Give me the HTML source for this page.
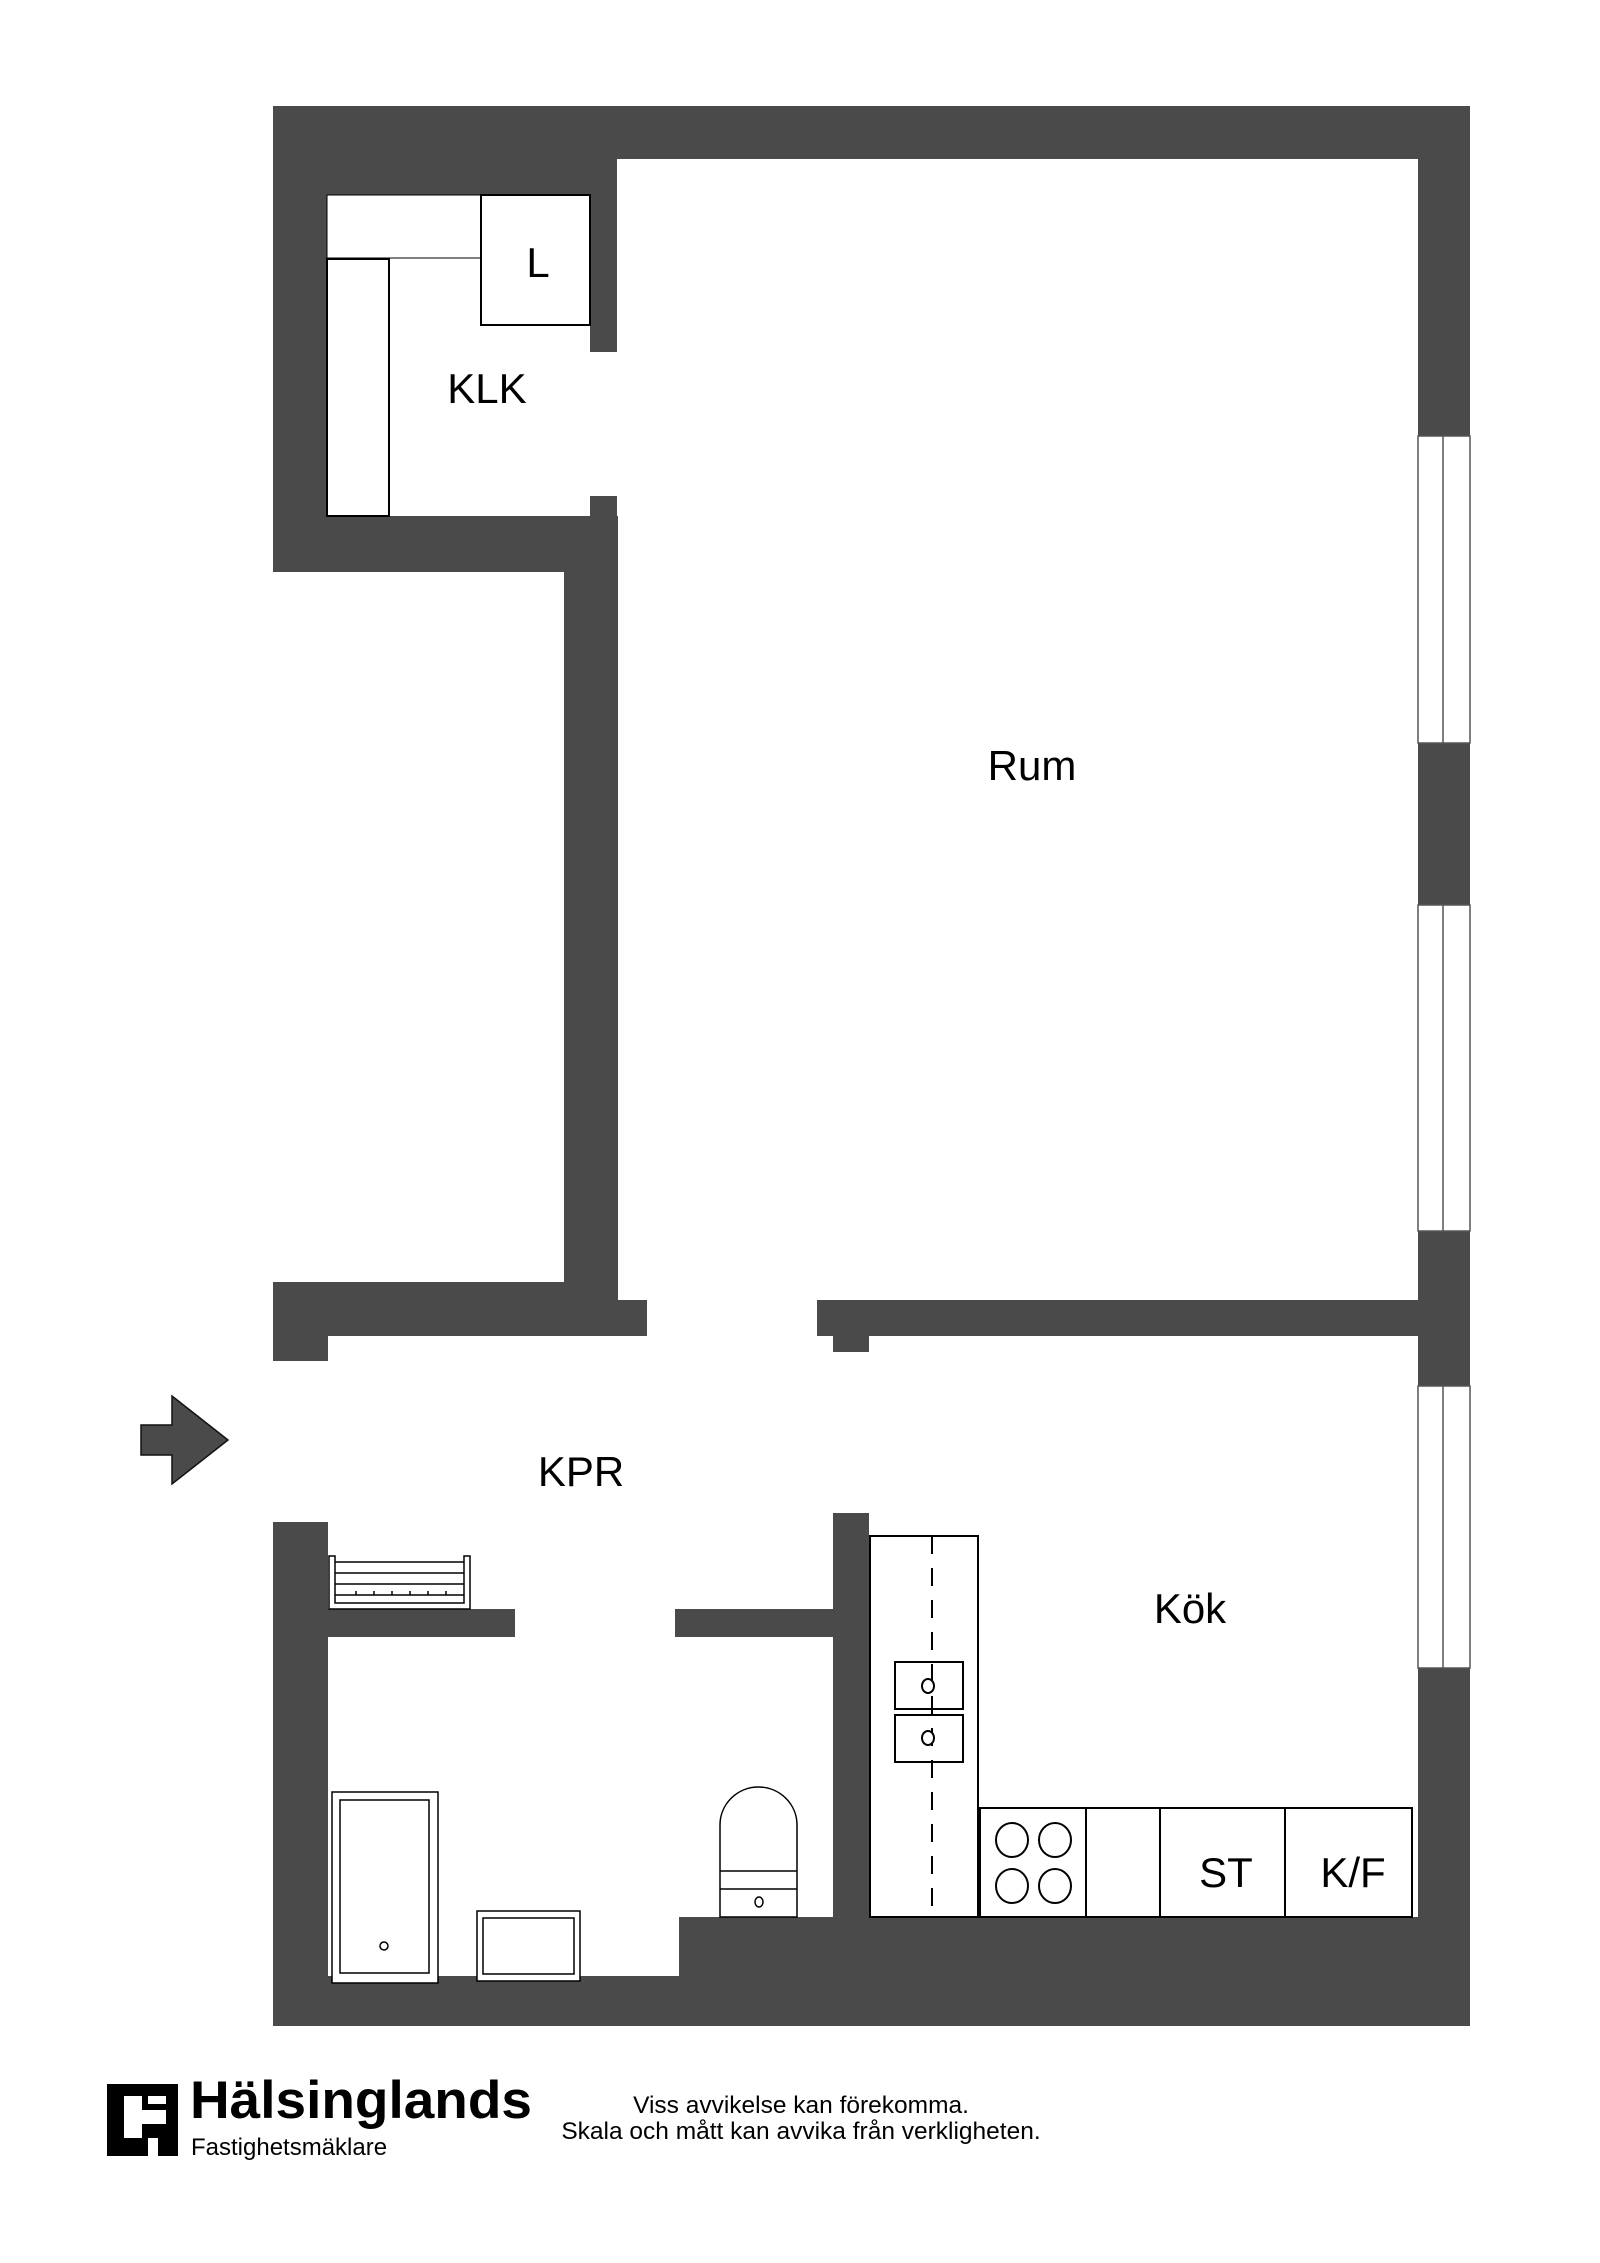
<!DOCTYPE html>
<html><head><meta charset="utf-8"><style>html,body{margin:0;padding:0;background:#fff}svg{display:block}</style></head>
<body>
<svg width="1600" height="2263" viewBox="0 0 1600 2263" xmlns="http://www.w3.org/2000/svg" font-family="Liberation Sans, sans-serif">
<g fill="#4a4a4a">
<rect x="273" y="106" width="1197" height="53"/>
<rect x="273" y="106" width="54" height="466"/>
<rect x="273" y="106" width="317" height="89"/>
<rect x="590" y="106" width="27" height="246"/>
<rect x="590" y="496" width="27" height="30"/>
<rect x="273" y="516" width="345" height="56"/>
<rect x="564" y="516" width="54" height="820"/>
<rect x="1418" y="106" width="52" height="1920"/>
<rect x="273" y="1282" width="345" height="54"/>
<rect x="564" y="1282" width="54" height="18"/>
<rect x="564" y="1300" width="83" height="36"/>
<rect x="273" y="1282" width="55" height="79"/>
<rect x="817" y="1300" width="601" height="36"/>
<rect x="833" y="1300" width="36" height="52"/>
<rect x="273" y="1522" width="55" height="504"/>
<rect x="328" y="1609" width="187" height="28"/>
<rect x="675" y="1609" width="158" height="28"/>
<rect x="833" y="1513" width="36" height="420"/>
<rect x="679" y="1917" width="790" height="109"/>
<rect x="273" y="1976" width="420" height="50"/>
</g>
<g fill="#fff" stroke="#555" stroke-width="1.5">
<rect x="1418" y="436" width="52" height="307"/><line x1="1443" y1="436" x2="1443" y2="743"/>
<rect x="1418" y="905" width="52" height="326"/><line x1="1443" y1="905" x2="1443" y2="1231"/>
<rect x="1418" y="1386" width="52" height="282"/><line x1="1443" y1="1386" x2="1443" y2="1668"/>
</g>
<g fill="#fff" stroke="#000" stroke-width="2">
<rect x="327" y="195" width="154" height="63" stroke-width="1"/>
<rect x="327" y="259" width="62" height="257"/>
<rect x="481" y="195" width="109" height="130"/>
</g>
<g fill="#fff" stroke="#000" stroke-width="1.5">
<path d="M329 1556 V1609 H470 V1556 H464 V1603 H335 V1556 Z"/>
<line x1="335" y1="1562" x2="464" y2="1562"/><line x1="335" y1="1573" x2="464" y2="1573"/><line x1="335" y1="1584" x2="464" y2="1584"/><line x1="335" y1="1595" x2="464" y2="1595"/>
<path d="M356 1595 v-4 M374 1595 v-4 M392 1595 v-4 M410 1595 v-4 M428 1595 v-4 M446 1595 v-4"/>
</g>
<g fill="#fff" stroke="#000" stroke-width="2">
<rect x="870" y="1536" width="108" height="381"/>
<line x1="932" y1="1536" x2="932" y2="1917" stroke-dasharray="18 14"/>
<rect x="895" y="1662" width="68" height="47" fill="none"/>
<rect x="895" y="1715" width="68" height="47" fill="none"/>
<ellipse cx="928" cy="1686" rx="6" ry="7"/><ellipse cx="928" cy="1738" rx="6" ry="7"/>
<rect x="980" y="1808" width="432" height="109"/>
<line x1="1086" y1="1808" x2="1086" y2="1917"/><line x1="1160" y1="1808" x2="1160" y2="1917"/><line x1="1285" y1="1808" x2="1285" y2="1917"/>
<ellipse cx="1012" cy="1840" rx="16" ry="17"/><ellipse cx="1055" cy="1840" rx="16" ry="17"/>
<ellipse cx="1012" cy="1886" rx="16" ry="17"/><ellipse cx="1055" cy="1886" rx="16" ry="17"/>
</g>
<g fill="#fff" stroke="#000" stroke-width="1.5">
<rect x="332" y="1792" width="106" height="191"/>
<rect x="340" y="1800" width="89" height="173"/>
<circle cx="384" cy="1946" r="4"/>
<rect x="477" y="1911" width="103" height="70"/>
<rect x="483" y="1918" width="91" height="56"/>
<path d="M720 1917 V1825 A38.5 38 0 0 1 797 1825 V1917 Z"/>
<line x1="720" y1="1871" x2="797" y2="1871"/><line x1="720" y1="1889" x2="797" y2="1889"/>
<ellipse cx="759" cy="1902" rx="4" ry="5"/>
</g>
<polygon points="141,1425 172,1425 172,1396 228,1440 172,1484 172,1455 141,1455" fill="#4a4a4a" stroke="#111" stroke-width="1.5"/>
<g font-size="42" fill="#000" text-anchor="middle">
<text x="538" y="277">L</text>
<text x="487" y="403">KLK</text>
<text x="1032" y="780">Rum</text>
<text x="581" y="1486">KPR</text>
<text x="1190" y="1623">Kök</text>
<text x="1226" y="1887">ST</text>
<text x="1353" y="1887">K/F</text>
</g>
<rect x="107" y="2084" width="71" height="72" fill="#000"/>
<path d="M124 2096 h18 v14 h24 v14 h-24 v14 h-18 Z M148 2096 h18 v8 h-18 Z M148 2138 h10 v18 h-10 Z" fill="#fff"/>
<text x="190" y="2118" font-size="53" font-weight="bold" fill="#000" textLength="342" lengthAdjust="spacingAndGlyphs">Hälsinglands</text>
<text x="191" y="2155" font-size="24" fill="#000">Fastighetsmäklare</text>
<g font-size="24.5" fill="#000" text-anchor="middle">
<text x="801" y="2113">Viss avvikelse kan förekomma.</text>
<text x="801" y="2139">Skala och mått kan avvika från verkligheten.</text>
</g>
</svg>
</body></html>
